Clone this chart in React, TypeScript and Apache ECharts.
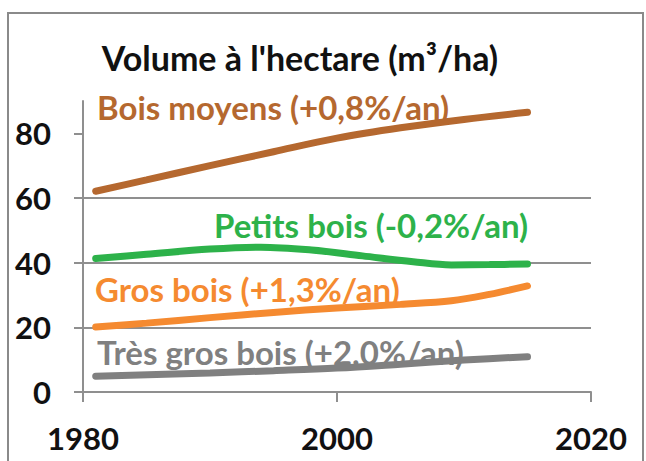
import React, { useEffect, useRef } from 'react';
import * as echarts from 'echarts';

const titleText = "Volume à l'hectare (m³/ha)";
const xTicks = [1980, 2000, 2020];
const yTicks = [0, 20, 40, 60, 80];

const moyensYears = [1981, 1985, 1990, 1995, 2000, 2005, 2010, 2015];
const moyensValues = [62.1, 65.6, 70.0, 74.3, 78.5, 81.7, 84.3, 86.5];
const petitsYears = [1981, 1985, 1990, 1994, 1998, 2002, 2006, 2009, 2012, 2015];
const petitsValues = [41.3, 42.6, 44.2, 44.8, 43.9, 42.1, 40.3, 39.3, 39.4, 39.6];
const grosYears = [1981, 1985, 1990, 1995, 2000, 2005, 2009, 2012, 2015];
const grosValues = [20.1, 21.3, 23.0, 24.6, 26.0, 27.1, 28.2, 30.2, 32.8];
const tresGrosYears = [1981, 1990, 1995, 2000, 2005, 2010, 2015];
const tresGrosValues = [4.9, 5.9, 6.6, 7.4, 8.6, 9.9, 10.9];

const seriesNames = [
  'Bois moyens (+0,8%/an)',
  'Petits bois (-0,2%/an)',
  'Gros bois (+1,3%/an)',
  'Très gros bois (+2,0%/an)',
];
const seriesColors = ['#B5682F', '#2DB24A', '#F58A30', '#808080'];

const FONT = 'Lato, "Open Sans", sans-serif';
const GRID_COLOR = '#8f8f8f';

function pairs(xs: number[], ys: number[]) {
  return xs.map((x, i) => [x, ys[i]]);
}

export default function App() {
  const ref = useRef<HTMLDivElement>(null);
  useEffect(() => {
    if (!ref.current) return;
    const chart = echarts.init(ref.current, null, { renderer: 'svg' });
    const data = [
      pairs(moyensYears, moyensValues),
      pairs(petitsYears, petitsValues),
      pairs(grosYears, grosValues),
      pairs(tresGrosYears, tresGrosValues),
    ];
    const labelPos = [
      [97, 107],
      [214, 225],
      [95, 289],
      [97, 352],
    ];
    chart.setOption({
      animation: false,
      backgroundColor: '#ffffff',
      grid: { left: 83, right: 55, top: 101, bottom: 69 },
      xAxis: {
        type: 'value',
        min: xTicks[0],
        max: xTicks[xTicks.length - 1],
        interval: 20,
        axisLine: { show: true, lineStyle: { color: GRID_COLOR, width: 2 } },
        axisTick: { show: true, length: 10, lineStyle: { color: GRID_COLOR, width: 2 } },
        axisLabel: {
          fontSize: 31,
          fontWeight: 'bold',
          fontFamily: FONT,
          color: '#111111',
          margin: 30,
          formatter: (v: number) => String(v),
        },
        splitLine: { show: false },
      },
      yAxis: {
        type: 'value',
        min: 0,
        max: 90,
        interval: 20,
        axisLine: { show: true, lineStyle: { color: GRID_COLOR, width: 2 } },
        axisTick: {
          show: true,
          length: 9,
          customValues: yTicks,
          lineStyle: { color: GRID_COLOR, width: 2 },
        },
        axisLabel: {
          customValues: yTicks,
          fontSize: 31,
          fontWeight: 'bold',
          fontFamily: FONT,
          color: '#111111',
          margin: 32,
        },
        splitLine: { show: true, showMaxLine: false, lineStyle: { color: GRID_COLOR, width: 2 } },
      },
      series: data.map((d, i) => ({
        type: 'line',
        name: seriesNames[i],
        data: d,
        smooth: 0.35,
        showSymbol: false,
        lineStyle: { width: 7, color: seriesColors[i], cap: 'round' },
        z: 3,
      })),
      graphic: [
        {
          type: 'rect',
          shape: { x: 8, y: 13, width: 635, height: 470 },
          style: { fill: 'none', stroke: '#8a8a8a', lineWidth: 2 },
          z: 0,
        },
        {
          type: 'text',
          x: 300,
          y: 57,
          style: {
            text: titleText,
            fontSize: 34,
            fontWeight: 'bold',
            fontFamily: FONT,
            fill: '#111111',
            align: 'center',
            verticalAlign: 'middle',
          },
          z: 10,
        },
        ...seriesNames.map((name, i) => ({
          type: 'text',
          x: labelPos[i][0],
          y: labelPos[i][1],
          style: {
            text: name,
            fontSize: 33,
            fontWeight: 'bold',
            fontFamily: FONT,
            fill: seriesColors[i],
            align: 'left',
            verticalAlign: 'middle',
          },
          z: 10,
        })),
      ],
    });
    return () => chart.dispose();
  }, []);
  return (
    <div
      ref={ref}
      style={{ position: 'fixed', left: 0, top: 0, width: 646, height: 461 }}
    />
  );
}
